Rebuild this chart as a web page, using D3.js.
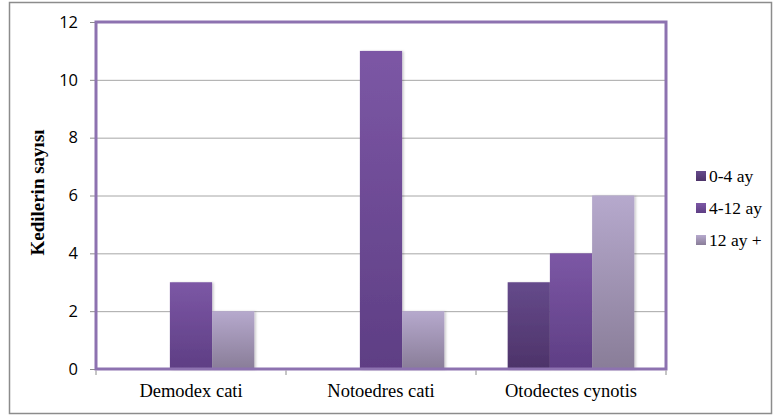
<!DOCTYPE html>
<html>
<head>
<meta charset="utf-8">
<script src="https://cdn.jsdelivr.net/npm/d3@7/dist/d3.min.js"></script>
<style>
  html, body { margin: 0; padding: 0; background: #fff; }
  svg { display: block; }
</style>
</head>
<body>
<svg id="chart" width="774" height="420"></svg>
<script>
// Mite species and the number of cats per age group
const categories = ["Demodex cati", "Notoedres cati", "Otodectes cynotis"];
const seriesNames = ["0-4 ay", "4-12 ay", "12 ay +"];
const age0to4 = [0, 0, 3];
const age4to12 = [3, 11, 4];
const age12plus = [2, 2, 6];
const yTicks = [0, 2, 4, 6, 8, 10, 12];
const yTitle = "Kedilerin sayısı";

const seriesValues = [age0to4, age4to12, age12plus];
const seriesColors = [
  { top: "#654a8b", bottom: "#4d3369" },
  { top: "#7c57a5", bottom: "#5e3e84" },
  { top: "#b6a9cd", bottom: "#897d98" }
];

const svg = d3.select("#chart");
const W = 774, H = 420;
const plot = { left: 96, right: 666, top: 22, bottom: 369 };
const serif = "'Liberation Serif', 'DejaVu Serif', serif";

// outer frame
svg.append("rect")
  .attr("x", 9.5).attr("y", 2.5)
  .attr("width", W - 12).attr("height", 411)
  .attr("fill", "#fff").attr("stroke", "#8c8c8c").attr("stroke-width", 1.5);

const x0 = d3.scaleBand().domain(categories).range([plot.left, plot.right]).paddingInner(0).paddingOuter(0);
const groupW = x0.bandwidth() * 3 / 4.5;
const x1 = d3.scaleBand().domain(seriesNames).range([0, groupW]).padding(0);
const y = d3.scaleLinear().domain([0, 12]).range([plot.bottom, plot.top]);

// gradients, darker towards the base of each bar
const defs = svg.append("defs");
seriesColors.forEach((c, i) => {
  const g = defs.append("linearGradient").attr("id", "grad" + i)
    .attr("x1", 0).attr("y1", 0).attr("x2", 0).attr("y2", 1);
  g.append("stop").attr("offset", "0%").attr("stop-color", c.top);
  g.append("stop").attr("offset", "100%").attr("stop-color", c.bottom);
});
const shadow = defs.append("filter").attr("id", "shadow")
  .attr("x", "-20%").attr("y", "-5%").attr("width", "150%").attr("height", "115%");
shadow.append("feDropShadow").attr("dx", 1.5).attr("dy", 0.5).attr("stdDeviation", 1.2)
  .attr("flood-color", "#000").attr("flood-opacity", 0.22);

// gridlines
svg.append("g")
  .selectAll("line")
  .data(yTicks.filter(t => t > 0 && t < 12))
  .join("line")
  .attr("x1", plot.left).attr("x2", plot.right)
  .attr("y1", d => y(d) + 0.5).attr("y2", d => y(d) + 0.5)
  .attr("stroke", "#a6a6a6").attr("stroke-width", 1);

// y axis ticks and labels
const yAxis = d3.axisLeft(y).tickValues(yTicks).tickSize(6).tickPadding(12).tickFormat(d3.format("d"));
const yg = svg.append("g").attr("transform", `translate(${plot.left},0)`).call(yAxis);
yg.select(".domain").remove();
yg.selectAll(".tick line").attr("stroke", "#8c8c8c");
yg.selectAll(".tick text")
  .attr("font-family", "'Open Sans', 'Liberation Sans', sans-serif")
  .attr("font-size", 16.5).attr("fill", "#000");

// bars
const groups = svg.append("g").selectAll("g")
  .data(categories)
  .join("g")
  .attr("transform", d => `translate(${x0(d) + (x0.bandwidth() - groupW) / 2},0)`);

groups.selectAll("rect")
  .data((cat, ci) => seriesNames.map((s, si) => ({ s, si, v: seriesValues[si][ci] })))
  .join("rect")
  .filter(d => d.v > 0)
  .attr("x", d => x1(d.s))
  .attr("width", x1.bandwidth())
  .attr("y", d => y(d.v))
  .attr("height", d => y(0) - y(d.v))
  .attr("fill", d => `url(#grad${d.si})`)
  .attr("filter", "url(#shadow)");

// plot area frame
svg.append("rect")
  .attr("x", plot.left).attr("y", plot.top)
  .attr("width", plot.right - plot.left).attr("height", plot.bottom - plot.top)
  .attr("fill", "none").attr("stroke", "#8d72b0").attr("stroke-width", 3);

// x axis category ticks and labels
const xAxis = d3.axisBottom(x0).tickSize(0).tickPadding(0);
const xg = svg.append("g").attr("transform", `translate(0,${plot.bottom})`).call(xAxis);
xg.select(".domain").remove();
xg.selectAll(".tick text")
  .attr("y", 28).attr("dy", null)
  .attr("font-family", serif)
  .attr("font-size", 18.5).attr("fill", "#000");
svg.append("g").selectAll("line")
  .data(d3.range(categories.length + 1))
  .join("line")
  .attr("x1", i => plot.left + i * x0.bandwidth())
  .attr("x2", i => plot.left + i * x0.bandwidth())
  .attr("y1", plot.bottom + 1.5).attr("y2", plot.bottom + 6)
  .attr("stroke", "#8c8c8c");

// y axis title
svg.append("text")
  .attr("transform", `translate(44,${(plot.top + plot.bottom) / 2 - 3}) rotate(-90)`)
  .attr("text-anchor", "middle")
  .attr("font-family", serif)
  .attr("font-weight", "bold").attr("font-size", 19)
  .text(yTitle);

// legend
const legend = svg.append("g").selectAll("g")
  .data(seriesNames)
  .join("g")
  .attr("transform", (d, i) => `translate(696,${176 + i * 32})`);
legend.append("rect")
  .attr("x", 0).attr("y", -5).attr("width", 10).attr("height", 10)
  .attr("fill", (d, i) => `url(#grad${i})`);
legend.append("text")
  .attr("x", 13).attr("y", 6)
  .attr("font-family", serif)
  .attr("font-size", 17.5).attr("fill", "#000")
  .text(d => d);
</script>
</body>
</html>
